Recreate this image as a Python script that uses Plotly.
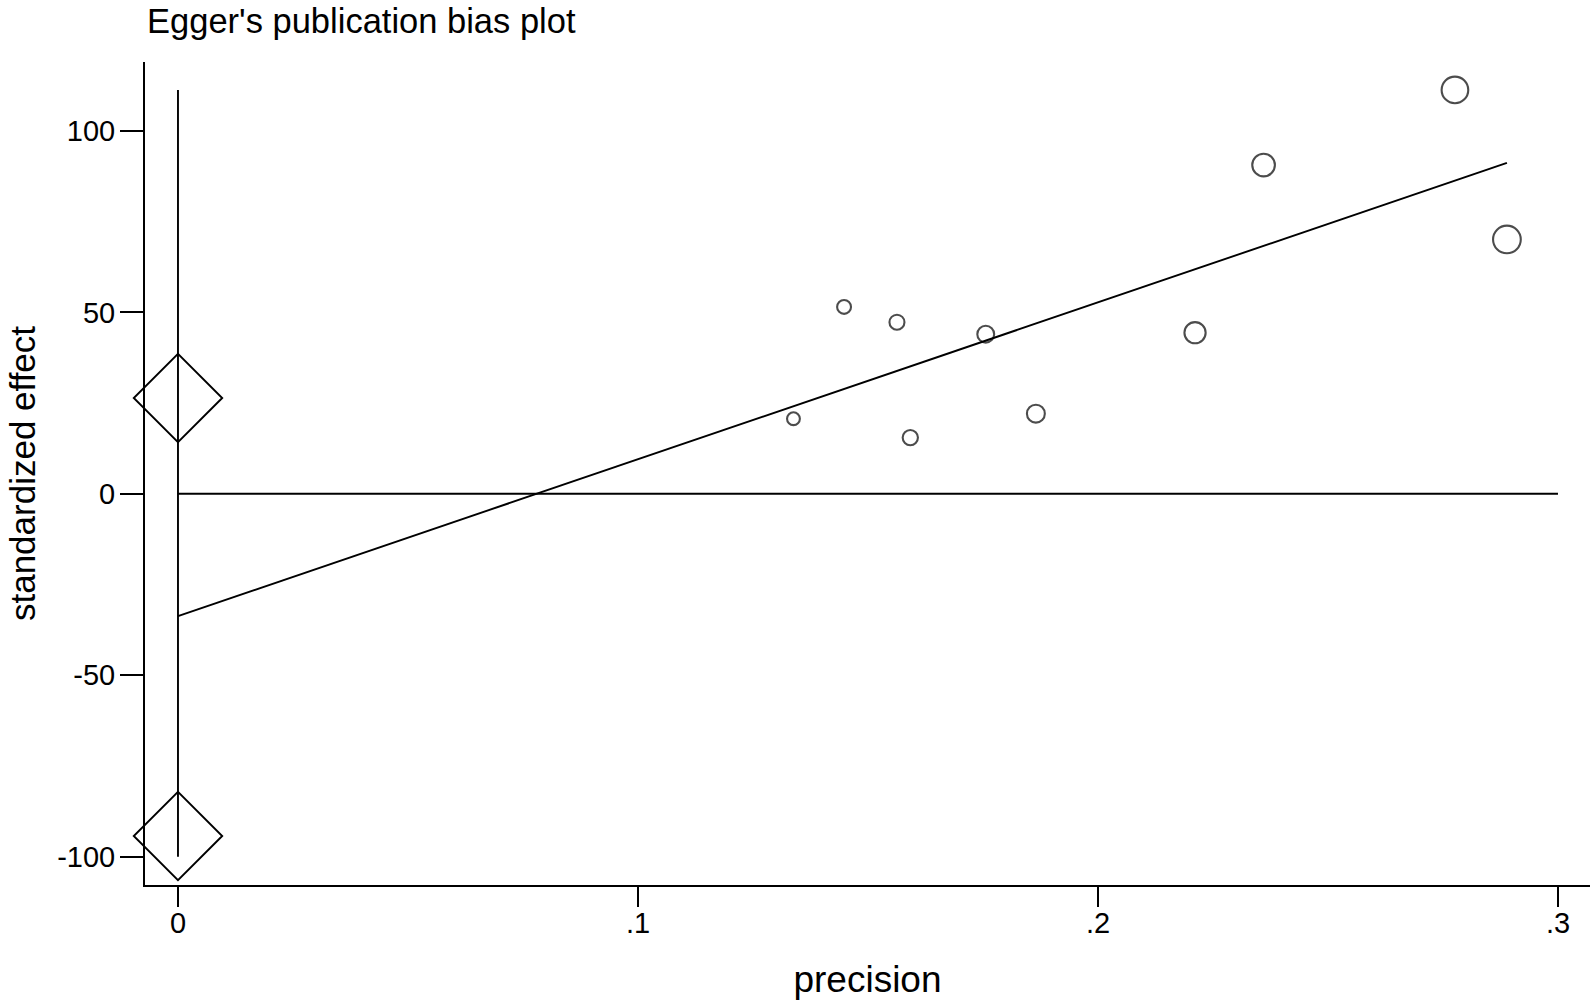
import plotly.graph_objects as go

# Egger's regression: standardized effect vs precision
precision = [0.1338, 0.1448, 0.1563, 0.1592, 0.1756, 0.1865, 0.2211, 0.2360, 0.2776, 0.2889]
std_effect = [20.7, 51.5, 47.3, 15.5, 44.0, 22.1, 44.4, 90.6, 111.3, 70.1]

# fitted regression line (endpoints at precision 0 and max precision)
fit_x = [0.0, 0.2889]
fit_y = [-33.7, 91.2]

# vertical line at precision 0 and zero reference line
vline_x = [0.0, 0.0]
vline_y = [111.3, -100.0]
zero_x = [0.0, 0.3]
zero_y = [0.0, 0.0]

# diamonds at precision 0
diamond_x = [0.0, 0.0]
diamond_y = [26.4, -94.3]

x_ticks = [0, 0.1, 0.2, 0.3]
x_labels = ["0", ".1", ".2", ".3"]
y_ticks = [-100, -50, 0, 50, 100]
y_labels = ["-100", "-50", "0", "50", "100"]

FONT = "Liberation Sans, Arial, sans-serif"
LW = 1.9
W, H = 1594, 1003

fig = go.Figure()
fig.add_trace(go.Scatter(x=vline_x, y=vline_y, mode="lines",
                         line={"color": "black", "width": LW}))
fig.add_trace(go.Scatter(x=zero_x, y=zero_y, mode="lines",
                         line={"color": "black", "width": LW}))
fig.add_trace(go.Scatter(x=fit_x, y=fit_y, mode="lines",
                         line={"color": "black", "width": LW}))
fig.add_trace(go.Scatter(
    x=diamond_x, y=diamond_y, mode="markers", cliponaxis=False,
    marker={"symbol": "diamond-open", "size": 68, "color": "black",
            "line": {"color": "black", "width": LW}},
))
fig.add_trace(go.Scatter(
    x=precision, y=std_effect, mode="markers", cliponaxis=False,
    marker={"symbol": "circle-open", "size": [96 * p for p in precision],
            "color": "black", "line": {"color": "black", "width": 2.1}},
))

fig.update_layout(
    width=W, height=H,
    paper_bgcolor="white", plot_bgcolor="white",
    showlegend=False,
    margin={"l": 145, "r": 4, "t": 62, "b": 118},
    font={"family": FONT, "color": "black", "size": 29},
    title={"text": "Egger's publication bias plot", "x": 147 / W, "xanchor": "left",
           "xref": "container", "yref": "container", "y": 1 - 21 / H, "yanchor": "middle",
           "font": {"family": FONT, "size": 34.5, "color": "black"}},
    xaxis={
        "range": [-0.00717, 0.30696], "showgrid": False, "zeroline": False,
        "showline": True, "linecolor": "black", "linewidth": LW,
        "ticks": "outside", "ticklen": 20, "tickwidth": LW, "tickcolor": "black",
        "tickvals": x_ticks, "ticktext": x_labels, "ticklabelstandoff": -9,
        "title": {"text": "precision", "font": {"size": 37}, "standoff": 28},
    },
    yaxis={
        "range": [-107.8, 119.0], "showgrid": False, "zeroline": False,
        "showline": True, "linecolor": "black", "linewidth": LW,
        "ticks": "outside", "ticklen": 23, "tickwidth": LW, "tickcolor": "black",
        "tickvals": y_ticks, "ticktext": y_labels, "ticklabelstandoff": -1,
        "title": {"text": "standardized effect", "font": {"size": 35}, "standoff": 11},
    },
)

# drop the browser's default 8px body margin so the figure fills the window
fig.write_html("out.html", config={"displayModeBar": False},
               post_script="document.body.style.margin = '0';")
